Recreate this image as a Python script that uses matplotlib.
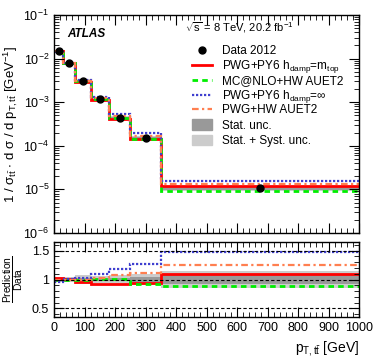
import numpy as np
import matplotlib
matplotlib.use('Agg')
import matplotlib.pyplot as plt
from matplotlib.lines import Line2D
from matplotlib.patches import Rectangle
from matplotlib.ticker import MultipleLocator, LogLocator, NullFormatter

plt.rcParams['font.family'] = ['Liberation Sans', 'DejaVu Sans']
plt.rcParams['mathtext.fontset'] = 'custom'
plt.rcParams['mathtext.rm'] = 'Liberation Sans'
plt.rcParams['mathtext.it'] = 'Liberation Sans:italic'
plt.rcParams['mathtext.default'] = 'regular'

# bin edges in pT,ttbar [GeV]
edges = [0, 30, 70, 120, 180, 250, 350, 1000]
# measured normalised cross-section [1/GeV]
data = [0.0150, 0.0080, 0.0031, 0.00119, 4.4e-4, 1.52e-4, 1.06e-5]
# prediction / data
r_pwg_py6 = [1.02, 1.01, 0.96, 0.92, 0.92, 0.94, 1.10]
r_mcnlo = [1.00, 0.99, 0.99, 1.01, 1.01, 0.93, 0.89]
r_hdamp_inf = [0.96, 1.01, 1.03, 1.09, 1.19, 1.27, 1.47]
r_pwg_hw = [1.00, 0.99, 1.00, 1.03, 1.07, 1.12, 1.26]
# relative uncertainties
stat = [0.02, 0.02, 0.02, 0.02, 0.03, 0.05, 0.07]
total = [0.05, 0.04, 0.07, 0.06, 0.08, 0.10, 0.14]

edges = np.array(edges, dtype=float)
data = np.array(data)
stat = np.array(stat)
total = np.array(total)
centers = 0.5 * (edges[1:] + edges[:-1])

preds = [
    (r_pwg_py6, dict(color='#ff0000', lw=2.0, ls='-'), 'PWG+PY6 h$_{damp}$=m$_{top}$'),
    (r_mcnlo, dict(color='#00ee00', lw=2.0, ls=(0, (2, 1.5))), 'MC@NLO+HW AUET2'),
    (r_hdamp_inf, dict(color='#3f3fcf', lw=1.6, ls=(0, (1, 0.8))), 'PWG+PY6 h$_{damp}$=$\\infty$'),
    (r_pwg_hw, dict(color='#ff7f50', lw=1.6, ls=(0, (3, 1.5, 1, 1.5))), 'PWG+HW AUET2'),
]
STAT_COL = '#999999'
TOT_COL = '#cccccc'

W, H = 374, 360
fig = plt.figure(figsize=(W/100, H/100), dpi=100)
ax = fig.add_axes([54/W, 1-233/H, (359-54)/W, (233-15)/H])
rax = fig.add_axes([54/W, 1-317/H, (359-54)/W, (317-242)/H])

# main panel
ax.stairs(data*(1+total), edges, baseline=data*(1-total), fill=True, color=TOT_COL, lw=0)
ax.stairs(data*(1+stat), edges, baseline=data*(1-stat), fill=True, color=STAT_COL, lw=0)
for r, st, lab in preds:
    ax.stairs(data*np.array(r), edges, baseline=None, **st)
ax.plot(centers, data, 'o', color='black', ms=5, zorder=5)
ax.set_yscale('log')
ax.set_ylim(1e-6, 1e-1)
ax.set_xlim(0, 1000)
ax.set_ylabel(r'1 / $\sigma_{t\bar{t}}$ $\cdot$ d $\sigma$ / d p$_{T,t\bar{t}}$ [GeV$^{-1}$]', fontsize=9.5)
ax.yaxis.set_label_coords(-0.11, 0.5)
ax.tick_params(labelbottom=False)
ax.yaxis.set_minor_locator(LogLocator(base=10, subs=np.arange(2, 10)))
ax.yaxis.set_minor_formatter(NullFormatter())

ax.text(0.045, 0.915, 'ATLAS', transform=ax.transAxes, fontsize=8.5,
        fontweight='bold', fontstyle='italic', va='center')
ax.text(0.43, 0.94, r'$\sqrt{s}$ = 8 TeV, 20.2 fb$^{-1}$', transform=ax.transAxes,
        fontsize=8, va='center')

# legend, laid out by hand (pixel rows like the ROOT original)
def fx(px):
    return px/W

def fy(py):
    return 1 - py/H

rows = [50, 65, 80, 94.5, 109, 124.5, 140]
x0, x1, xt = 192, 212, 222
fig.add_artist(Line2D([fx(202)], [fy(rows[0])], marker='o', color='black', ms=5,
                      ls='none', transform=fig.transFigure))
entries = ['Data 2012']
for i, (r, st, lab) in enumerate(preds):
    fig.add_artist(Line2D([fx(x0), fx(x1)], [fy(rows[i+1])]*2,
                          transform=fig.transFigure, **st))
    entries.append(lab)
for j, (col, lab) in enumerate([(STAT_COL, 'Stat. unc.'), (TOT_COL, 'Stat. + Syst. unc.')]):
    yc = rows[5+j]
    fig.add_artist(Rectangle((fx(x0), fy(yc+5.3)), (x1-x0)/W, 10.6/H, color=col,
                             transform=fig.transFigure))
    entries.append(lab)
for yc, lab in zip(rows, entries):
    fig.text(fx(xt), fy(yc+4), lab, fontsize=8.5, va='baseline', ha='left')

# ratio panel
rax.stairs(1+total, edges, baseline=1-total, fill=True, color=TOT_COL, lw=0)
rax.stairs(1+stat, edges, baseline=1-stat, fill=True, color=STAT_COL, lw=0)
for yv in [0.5, 1.0, 1.5]:
    rax.axhline(yv, color='black', lw=0.8, ls=(0, (3, 2)), zorder=1.5)
for r, st, lab in preds:
    rax.stairs(np.array(r), edges, baseline=None, **st)
rax.set_xlim(0, 1000)
rax.set_ylim(0.35, 1.65)
rax.yaxis.set_minor_locator(MultipleLocator(0.1))
rax.set_yticks([0.5, 1.0, 1.5])
rax.set_yticklabels(['0.5', '1', '1.5'])
rax.set_ylabel(r'$\frac{Prediction}{Data}$', fontsize=10.5)
rax.yaxis.set_label_coords(-0.095, 0.5)
rax.set_xlabel(r'p$_{T,t\bar{t}}$ [GeV]', fontsize=10, loc='right')

for a in (ax, rax):
    a.xaxis.set_major_locator(MultipleLocator(100))
    a.xaxis.set_minor_locator(MultipleLocator(20))
    a.tick_params(which='both', direction='in', top=True, right=True, labelsize=9)
    a.tick_params(which='major', length=7, width=0.8)
    a.tick_params(which='minor', length=3.5, width=0.6)
    for s in a.spines.values():
        s.set_linewidth(1.0)

fig.savefig('out.png', dpi=100)
